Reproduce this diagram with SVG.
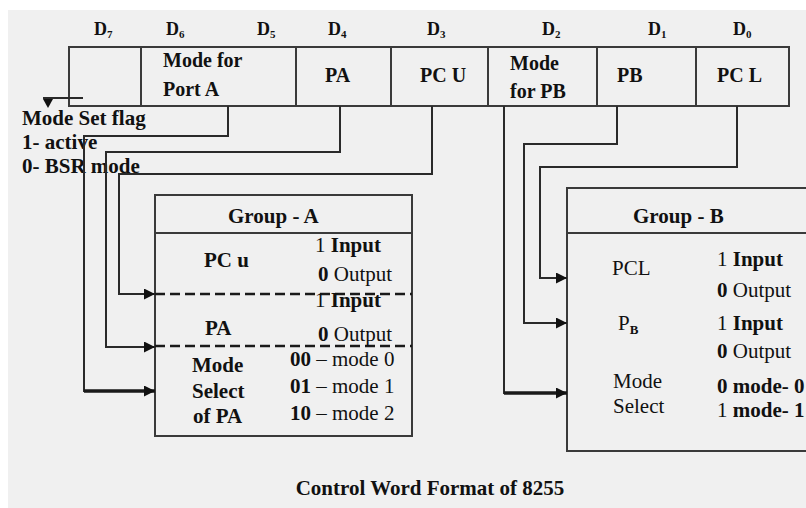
<svg xmlns="http://www.w3.org/2000/svg" width="806" height="508" viewBox="0 0 806 508">
<defs>
<style>
text{font-family:"Liberation Serif","Times New Roman",serif;fill:#111}
.b{font-weight:bold}
.n{font-weight:normal}
.dl{font-size:18px;font-weight:bold}
.cell{font-size:20px;font-weight:bold}
.side{font-size:21px;font-weight:bold}
.gt{font-size:21px}
.box{fill:none;stroke:#3a3a3a;stroke-width:2}
.ln{fill:none;stroke:#2a2a2a;stroke-width:2}
.thk{fill:none;stroke:#1a1a1a;stroke-width:3.5}
.dash{fill:none;stroke:#1a1a1a;stroke-width:2.5;stroke-dasharray:10 5}
</style>
<marker id="ar" viewBox="0 0 10 10" refX="10" refY="5" markerWidth="11" markerHeight="11" markerUnits="userSpaceOnUse" orient="auto">
<path d="M0,0 L10,5 L0,10 z" fill="#111"/>
</marker>
</defs>
<rect x="0" y="0" width="806" height="508" fill="#ffffff"/>
<rect x="8" y="10" width="798" height="498" fill="#f0f0f0"/>

<g id="register">
<rect class="box" x="69" y="47" width="720" height="59"/>
<path class="box" d="M141,47V106M296,47V106M391,47V106M488,47V106M597,47V106M696,47V106"/>
<text class="dl" x="94" y="35">D<tspan font-size="11" dy="3">7</tspan></text>
<text class="dl" x="166" y="35">D<tspan font-size="11" dy="3">6</tspan></text>
<text class="dl" x="257" y="35">D<tspan font-size="11" dy="3">5</tspan></text>
<text class="dl" x="328" y="35">D<tspan font-size="11" dy="3">4</tspan></text>
<text class="dl" x="427" y="35">D<tspan font-size="11" dy="3">3</tspan></text>
<text class="dl" x="542" y="35">D<tspan font-size="11" dy="3">2</tspan></text>
<text class="dl" x="648" y="35">D<tspan font-size="11" dy="3">1</tspan></text>
<text class="dl" x="733" y="35">D<tspan font-size="11" dy="3">0</tspan></text>
<text class="cell" x="163" y="67">Mode for</text>
<text class="cell" x="163" y="96">Port A</text>
<text class="cell" x="325" y="82">PA</text>
<text class="cell" x="420" y="82">PC U</text>
<text class="cell" x="510" y="70">Mode</text>
<text class="cell" x="510" y="98">for PB</text>
<text class="cell" x="617" y="82">PB</text>
<text class="cell" x="717" y="82">PC L</text>
</g>

<g id="mode-set-flag">
<text class="side" x="22" y="125">Mode Set flag</text>
<text class="side" x="22" y="149">1- active</text>
<text class="side" x="22" y="173">0- BSR mode</text>
</g>

<g id="group-a">
<rect class="box" x="155" y="195" width="257" height="241"/>
<path class="box" d="M155,233H412"/>
<path class="dash" d="M155,294H412M155,346H412"/>
<text class="gt b" x="228" y="223">Group - A</text>
<text class="gt b" x="204" y="267">PC u</text>
<text class="gt" x="315" y="252">1 <tspan class="b">Input</tspan></text>
<text class="gt" x="318" y="281"><tspan class="b">0</tspan> Output</text>
<text class="gt" x="315" y="307">1 <tspan class="b">Input</tspan></text>
<text class="gt b" x="205" y="335">PA</text>
<text class="gt" x="318" y="341"><tspan class="b">0</tspan> Output</text>
<text class="gt b" x="192" y="372">Mode</text>
<text class="gt b" x="192" y="398">Select</text>
<text class="gt b" x="193" y="423">of PA</text>
<text class="gt" x="290" y="366"><tspan class="b">00</tspan> – mode 0</text>
<text class="gt" x="290" y="393"><tspan class="b">01</tspan> – mode 1</text>
<text class="gt" x="290" y="420"><tspan class="b">10</tspan> – mode 2</text>
</g>

<g id="group-b">
<rect class="box" x="567" y="188" width="250" height="263"/>
<path class="box" d="M567,233H817"/>
<text class="gt b" x="633" y="223">Group - B</text>
<text class="gt" x="612" y="275">PCL</text>
<text class="gt" x="717" y="266">1 <tspan class="b">Input</tspan></text>
<text class="gt" x="717" y="297"><tspan class="b">0</tspan> Output</text>
<text class="gt" x="618" y="330">P<tspan font-size="13" class="b" dy="4">B</tspan></text>
<text class="gt" x="717" y="330">1 <tspan class="b">Input</tspan></text>
<text class="gt" x="717" y="358"><tspan class="b">0</tspan> Output</text>
<text class="gt" x="613" y="388">Mode</text>
<text class="gt" x="613" y="413">Select</text>
<text class="gt" x="717" y="393"><tspan class="b">0 mode- 0</tspan></text>
<text class="gt" x="717" y="417">1 <tspan class="b">mode- 1</tspan></text>
</g>

<g id="connectors">
<path class="ln" d="M83,98H43"/>
<path d="M43,99L53,99L48,108z" fill="#111"/>
<path class="ln" d="M228,106V136H84V391H140"/>
<path class="thk" d="M84,391H155" marker-end="url(#ar)"/>
<path class="ln" d="M340,106V152H106V347H155" marker-end="url(#ar)"/>
<path class="ln" d="M432,106V174H119V294H155" marker-end="url(#ar)"/>
<path class="ln" d="M504,106V393H520"/>
<path class="thk" d="M504,393H567" marker-end="url(#ar)"/>
<path class="ln" d="M617,106V144H524V323H567" marker-end="url(#ar)"/>
<path class="ln" d="M737,106V167H540V278H567" marker-end="url(#ar)"/>
</g>

<text class="side" x="430" y="495" text-anchor="middle">Control Word Format of 8255</text>
</svg>
